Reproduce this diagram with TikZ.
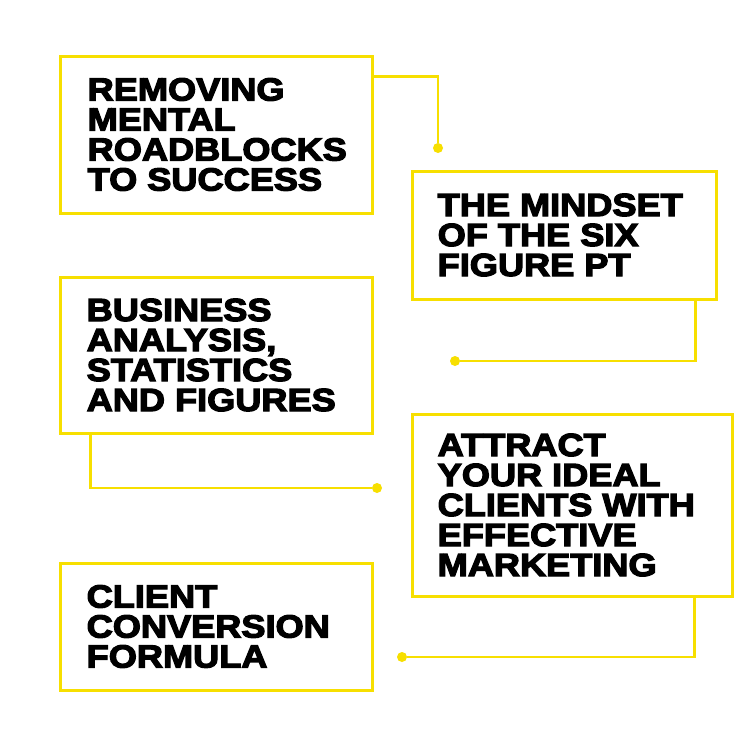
\documentclass[tikz,border=0pt]{standalone}
\usepackage{fontspec}
\newfontfamily\heavyfont{Liberation Sans Bold}[FakeBold=4,FakeStretch=1.13]
\usetikzlibrary{positioning}
\definecolor{topicyellow}{RGB}{247,223,0}

\begin{document}
\begin{tikzpicture}[x=1pt, y=-1pt,
    topic box/.style={rectangle, draw=topicyellow, line width=3pt, minimum width=312pt, inner sep=0pt},
    topic text/.style={align=left, inner sep=0pt, font=\heavyfont\fontsize{32}{30}\selectfont},
    end dot/.style={circle, fill=topicyellow, inner sep=0pt, minimum size=10pt},
    link/.style={draw=topicyellow, line width=2.5pt}]
  \fill[white] (0,0) rectangle (750,750);
  \useasboundingbox (0,0) rectangle (750,750);

  \node[topic box, minimum height=157pt] (b1) at (216,134.5) {};
  \node[topic box, minimum width=304pt, minimum height=128pt] (b2) at (564,235) {};
  \node[topic box, minimum height=156pt] (b3) at (216,355) {};
  \node[topic box, minimum width=320pt, minimum height=182pt] (b4) at (572,505) {};
  \node[topic box, minimum height=127pt] (b5) at (216,626.5) {};

  \node[topic text, right=29pt of b1.west] (t1) {REMOVING\\MENTAL\\ROADBLOCKS\\TO SUCCESS};
  \node[topic text, right=27pt of b2.west] (t2) {THE MINDSET\\OF THE SIX\\FIGURE PT};
  \node[topic text, right=28pt of b3.west] (t3) {BUSINESS\\ANALYSIS,\\STATISTICS\\AND FIGURES};
  \node[topic text, right=27pt of b4.west] (t4) {ATTRACT\\YOUR IDEAL\\CLIENTS WITH\\EFFECTIVE\\MARKETING};
  \node[topic text, right=28pt of b5.west] (t5) {CLIENT\\CONVERSION\\FORMULA};

  \node[end dot] (d1) at (438,148) {};
  \node[end dot] (d2) at (455,361) {};
  \node[end dot] (d3) at (377,488) {};
  \node[end dot] (d4) at (402,657) {};

  \draw[link] ([yshift=-22pt]b1.north east) -| (d1);
  \draw[link] ([xshift=-22pt]b2.south east) |- (d2);
  \draw[link] ([xshift=32pt]b3.south west) |- (d3);
  \draw[link] ([xshift=-39pt]b4.south east) |- (d4);
\end{tikzpicture}
\end{document}
